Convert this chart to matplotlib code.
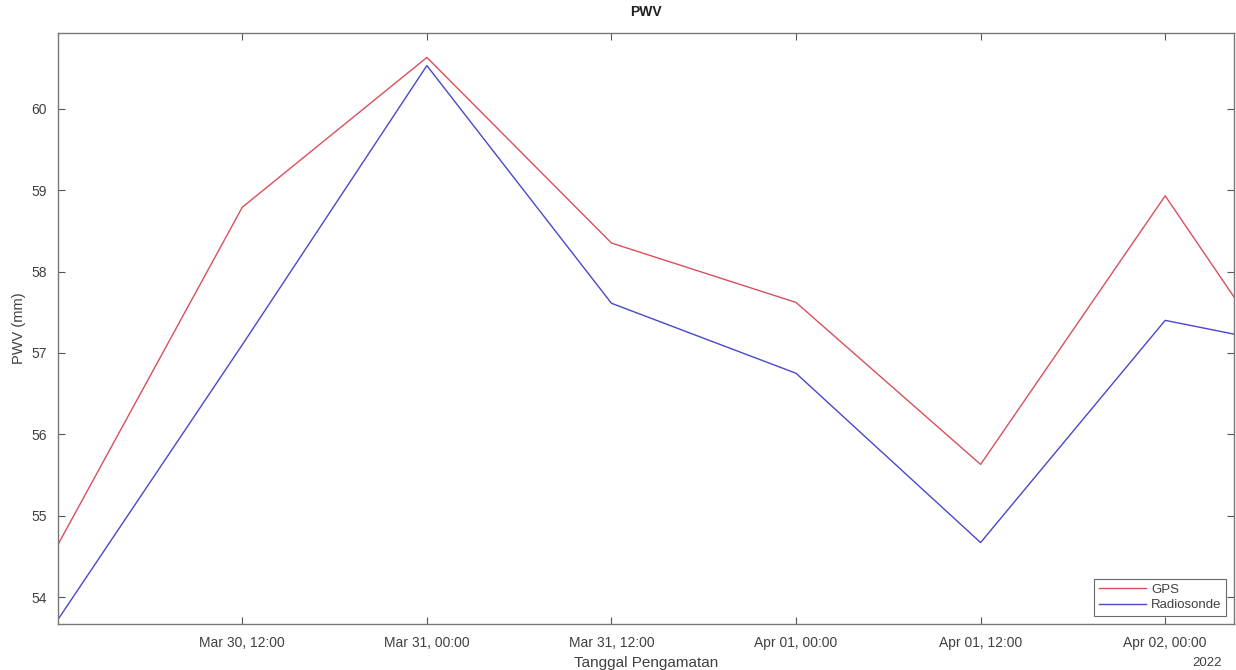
import numpy as np
import pandas as pd
import matplotlib
matplotlib.use("Agg")
import matplotlib.pyplot as plt
import matplotlib.dates as mdates

plt.rcParams['font.family'] = ['Liberation Sans', 'DejaVu Sans']

# waktu pengamatan (UTC)
waktu = pd.to_datetime([
    "2022-03-30 00:00", "2022-03-30 12:00", "2022-03-31 00:00",
    "2022-03-31 12:00", "2022-04-01 00:00", "2022-04-01 12:00",
    "2022-04-02 00:00", "2022-04-02 04:30",
])
pwv_gps = [54.64, 58.79, 60.63, 58.35, 57.62, 55.63, 58.93, 57.68]
pwv_radiosonde = [53.72, 57.10, 60.53, 57.61, 56.75, 54.67, 57.40, 57.23]

tick_waktu = pd.date_range("2022-03-30 12:00", "2022-04-02 00:00", freq="12h")

warna_teks = '#404040'

fig = plt.figure(figsize=(12.36, 6.70), dpi=100)
ax = fig.add_axes([0.0467, 0.0687, 0.952, 0.882])

ax.plot(waktu, pwv_gps, color='#d9505a', linewidth=1.0, label='GPS')
ax.plot(waktu, pwv_radiosonde, color='#4848cc', linewidth=1.0, label='Radiosonde')

ax.set_xlim(waktu[0], waktu[-1])
ax.set_ylim(53.67, 60.93)
ax.set_yticks(np.arange(54, 61, 1))
ax.set_xticks(tick_waktu)
ax.xaxis.set_major_formatter(mdates.DateFormatter('%b %d, %H:%M'))

ax.tick_params(direction='in', top=True, right=True, length=5, width=0.8,
               colors='#555555', labelcolor=warna_teks, labelsize=10)
ax.tick_params(axis='x', pad=9)
ax.tick_params(axis='y', pad=8)
for sp in ax.spines.values():
    sp.set_color('#777777')
    sp.set_linewidth(1.0)

# judul diletakkan manual agar posisinya sama dengan gambar asli
fig.text(0.5227, 1 - 12 / 670, 'PWV', ha='center', va='center',
         fontsize=10, fontweight='bold', color='#202020')
ax.set_ylabel('PWV (mm)', fontsize=10.5, color=warna_teks, labelpad=4)
ax.set_xlabel('Tanggal Pengamatan', fontsize=11, color=warna_teks, labelpad=4)
ax.text(0.9895, -0.0565, '2022', transform=ax.transAxes, ha='right', va='top',
        fontsize=9.5, color=warna_teks)

leg = ax.legend(loc='lower right', fontsize=9.5, frameon=True, fancybox=False,
                borderpad=0.35, handlelength=3.6, labelspacing=0.25,
                handletextpad=0.4, borderaxespad=0.6)
leg.get_frame().set_edgecolor('#444444')
leg.get_frame().set_linewidth(0.8)
for t in leg.get_texts():
    t.set_color(warna_teks)

fig.savefig('out.png', dpi=100)
